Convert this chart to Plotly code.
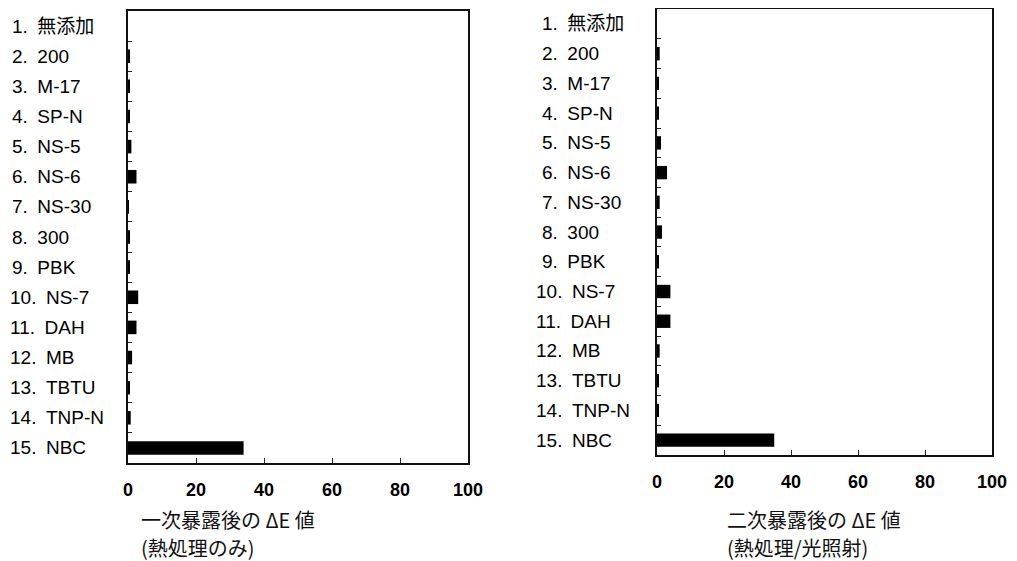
import plotly.graph_objects as go

W, H = 1017, 561
OFF = 8  # page body margin of the HTML document

categories = ["1. 無添加", "2. 200", "3. M-17", "4. SP-N", "5. NS-5", "6. NS-6", "7. NS-30",
              "8. 300", "9. PBK", "10. NS-7", "11. DAH", "12. MB", "13. TBTU", "14. TNP-N", "15. NBC"]
de_first = [0.0, 0.5, 0.3, 0.3, 1.0, 2.5, 0.2, 0.6, 0.3, 3.0, 2.5, 1.2, 0.4, 0.8, 34.0]
de_second = [0.0, 0.8, 0.4, 0.5, 1.2, 3.0, 0.8, 1.5, 0.6, 4.0, 4.0, 0.8, 0.6, 0.4, 35.0]
x_ticks = [0, 20, 40, 60, 80, 100]
title_first = ["一次暴露後の ΔE 値", "(熱処理のみ)"]
title_second = ["二次暴露後の ΔE 値", "(熱処理/光照射)"]

LABEL_FONT = dict(family="Liberation Sans, Noto Sans CJK JP, Arial", size=19, color="#000")
TICK_FONT = dict(family="Liberation Sans, Arial", size=18, color="#000", weight="bold")
CJK_FONT = dict(family="Noto Sans CJK JP", size=20, color="#111")


def px(x):
    return min(max((x - OFF) / W, 0.0), 1.0)


def py(y):
    return min(max(1 - (y - OFF) / H, 0.0), 1.0)


fig = go.Figure()

panels = [
    dict(vals=de_first, xa="x", ya="y", x0=128, x1=468, ytop=11, ybot=463,
         lab=(10, 4), title=title_first, tx=139),
    dict(vals=de_second, xa="x2", ya="y2", x0=657, x1=992, ytop=5, ybot=455,
         lab=(540, 534), title=title_second, tx=725),
]

layout = dict(
    template="none",
    width=W, height=H, margin=dict(l=0, r=0, t=0, b=0, pad=0, autoexpand=False),
    paper_bgcolor="white", plot_bgcolor="white", showlegend=False,
    bargap=0.55, annotations=[],
)

for i, p in enumerate(panels):
    fig.add_trace(go.Bar(x=p["vals"], y=categories, orientation="h",
                         marker=dict(color="#000", line=dict(width=0)),
                         xaxis=p["xa"], yaxis=p["ya"]))
    suffix = "" if i == 0 else "2"
    layout["xaxis" + suffix] = dict(
        domain=[px(p["x0"]), px(p["x1"])], range=[0, 100], anchor="y" + suffix,
        tickvals=x_ticks, ticktext=[str(v) for v in x_ticks],
        ticks="inside", ticklen=5, tickcolor="#222", tickwidth=1,
        showline=True, linecolor="#111", linewidth=2, mirror=True,
        showgrid=False, zeroline=False, fixedrange=True, automargin=False,
        tickfont=TICK_FONT, ticklabelstandoff=9,
    )
    layout["yaxis" + suffix] = dict(
        domain=[py(p["ybot"]), min(py(p["ytop"]), 0.998)], anchor="x" + suffix,
        type="category", categoryorder="array", categoryarray=categories,
        autorange="reversed", showticklabels=False, automargin=False,
        ticks="inside", ticklen=4, tickcolor="#222", tickwidth=1, tickson="boundaries",
        showline=True, linecolor="#111", linewidth=2, mirror=True,
        showgrid=False, zeroline=False, fixedrange=True,
    )
    for c in categories:
        num = c.split(".")[0]
        lx = p["lab"][1] if len(num) > 1 else p["lab"][0]
        layout["annotations"].append(dict(
            x=px(lx), xref="paper", xanchor="left",
            y=c, yref="y" + suffix, yanchor="middle",
            text=c.replace(". ", ".\u2002"), showarrow=False, font=LABEL_FONT,
        ))
    for j, line in enumerate(p["title"]):
        layout["annotations"].append(dict(
            x=px(p["tx"]), xref="paper", xanchor="left",
            y=py(520 + 27 * j), yref="paper", yanchor="middle",
            text=line, showarrow=False, font=CJK_FONT,
        ))

fig.update_layout(**layout)
fig.write_html("out.html")
